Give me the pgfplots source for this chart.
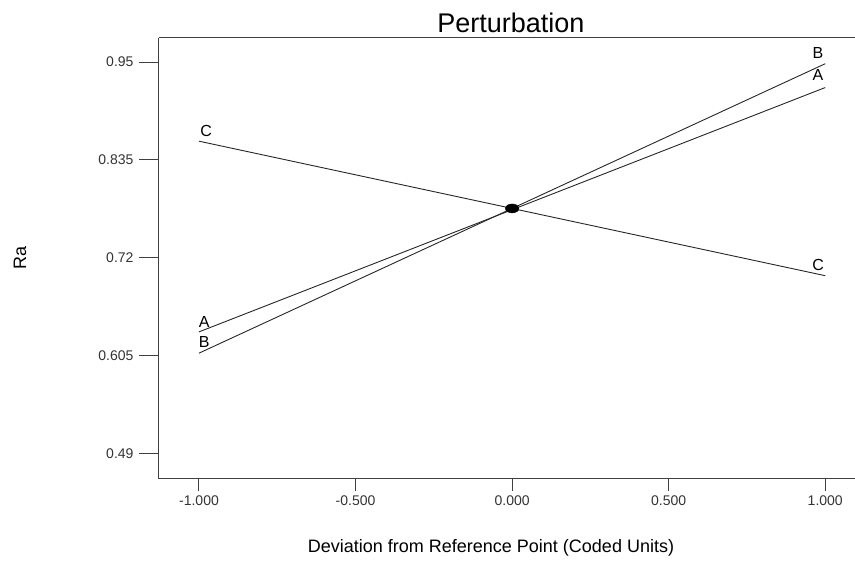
\documentclass[border=0pt]{standalone}
\usepackage{pgfplots}
\pgfplotsset{compat=1.18}
\usepackage{fontspec}
\setmainfont{Liberation Sans}

% Perturbation plot for the Ra response: factors A, B, C over coded units
\pgfplotstableread{
x      y
-1.000 0.633
 1.000 0.920
}\factorA
\pgfplotstableread{
x      y
-1.000 0.608
 1.000 0.948
}\factorB
\pgfplotstableread{
x      y
-1.000 0.857
 1.000 0.699
}\factorC

\pgfplotsset{
  perturbframe/.style={
    at={(159pt,94pt)}, anchor=south west,
    scale only axis,
    width=696pt, height=441pt,
    xmin=-1.1277, xmax=1.095,
    ymin=0.4602, ymax=0.9782,
    tick align=outside,
    ticklabel style={font=\fontsize{14}{16}\selectfont, text=black!80},
    /pgf/number format/assume math mode=true,
  },
}

\begin{document}
\begin{tikzpicture}
\path[use as bounding box] (0,0) rectangle (855pt,573pt);

% frame, x ticks and the three factor traces
\begin{axis}[
  perturbframe,
  axis x line*=box,
  axis y line*=left,
  axis line style={black!75, line width=1pt},
  xtick pos=bottom,
  major tick length=12pt,
  tick style={black!75, line width=1pt},
  xtick={-1,-0.5,0,0.5,1},
  xticklabels={-1.000,-0.500,0.000,0.500,1.000},
  xticklabel style={yshift=-1pt},
  ytick=\empty,
  clip=false,
]
\addplot[black!85, line width=0.9pt] table[x=x, y=y] {\factorA};
\addplot[black!85, line width=0.9pt] table[x=x, y=y] {\factorB};
\addplot[black!85, line width=0.9pt] table[x=x, y=y] {\factorC};
\addplot[only marks, mark=*, mark size=4.5pt, mark options={xscale=1.5, fill=black, draw=black}]
  coordinates {(0,0.778)};

\node[font=\fontsize{16}{18}\selectfont] at (axis cs:-0.977,0.869) {C};
\node[font=\fontsize{16}{18}\selectfont] at (axis cs:-0.983,0.645) {A};
\node[font=\fontsize{16}{18}\selectfont] at (axis cs:-0.983,0.6215) {B};
\node[font=\fontsize{16}{18}\selectfont] at (axis cs:0.977,0.960) {B};
\node[font=\fontsize{16}{18}\selectfont] at (axis cs:0.977,0.9347) {A};
\node[font=\fontsize{16}{18}\selectfont] at (axis cs:0.977,0.712) {C};

\node[font=\fontsize{27}{30}\selectfont] at (axis description cs:0.5057,1.034) {Perturbation};
\node[font=\fontsize{18}{20}\selectfont] at (axis description cs:0.477,-0.156) {Deviation from Reference Point (Coded Units)};
\node[font=\fontsize{18}{20}\selectfont, rotate=90] at (axis description cs:-0.1997,0.501) {Ra};
\end{axis}

% y ticks with their longer tick marks
\begin{axis}[
  perturbframe,
  hide x axis,
  axis y line*=left,
  axis line style={draw=none},
  ytick pos=left,
  major tick length=20pt,
  tick style={black!75, line width=1pt},
  ytick={0.49,0.605,0.72,0.835,0.95},
  yticklabels={0.49,0.605,0.72,0.835,0.95},
  yticklabel style={xshift=-2pt},
]
\end{axis}
\end{tikzpicture}
\end{document}
